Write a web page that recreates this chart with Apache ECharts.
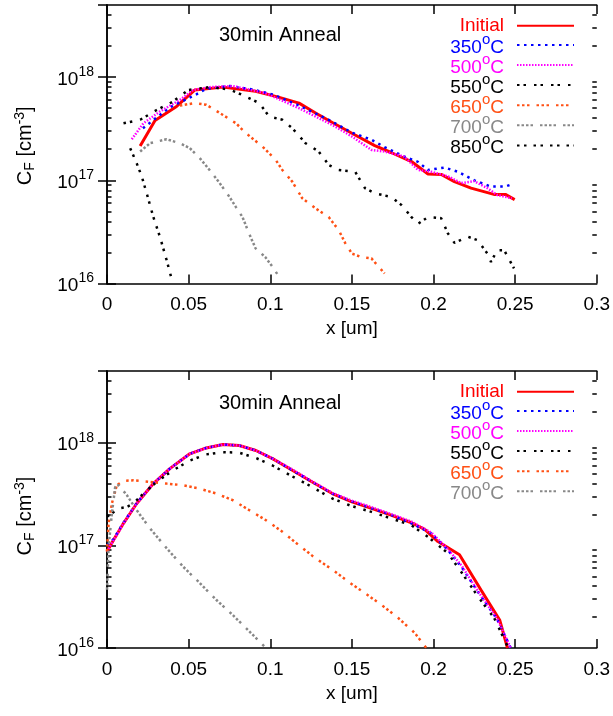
<!DOCTYPE html>
<html><head><meta charset="utf-8">
<script src="https://cdn.jsdelivr.net/npm/echarts@6/dist/echarts.min.js"></script>
<style>html,body{margin:0;padding:0;background:#fff}#c{width:613px;height:716px}</style>
</head><body><div id="c"></div>
<script>
// ---------- data ----------
const xTickLabels = ['0', '0.05', '0.1', '0.15', '0.2', '0.25', '0.3'];
const yMinorTicks = [2e16,3e16,4e16,5e16,6e16,7e16,8e16,9e16,2e17,3e17,4e17,5e17,6e17,7e17,8e17,9e17,2e18,3e18,4e18];
const seriesNamesTop = ['Initial', '350°C', '500°C', '550°C', '650°C', '700°C', '850°C'];
const seriesNamesBottom = ['Initial', '350°C', '500°C', '550°C', '650°C', '700°C'];
const panelTitle = '30min Anneal';

const top_initial = [[0.0203,2.15e17],[0.0294,3.8e17],[0.0426,5.2e17],[0.0537,7.5e17],[0.071,8.0e17],[0.091,7.3e17],[0.105,6.4e17],[0.1176,5.6e17],[0.128,4.47e17],[0.138,3.63e17],[0.15,2.86e17],[0.164,2.17e17],[0.174,1.86e17],[0.1865,1.52e17],[0.1966,1.15e17],[0.2047,1.14e17],[0.2128,9.7e16],[0.223,8.4e16],[0.237,7.3e16],[0.244,7.3e16],[0.2497,6.5e16]];
const top_350 = [[0.022,3.2e17],[0.0385,5.1e17],[0.0547,6.8e17],[0.0608,7.7e17],[0.075,8.2e17],[0.089,7.6e17],[0.1014,6.8e17],[0.1176,5.3e17],[0.1358,3.86e17],[0.15,2.9e17],[0.162,2.47e17],[0.170,2.1e17],[0.182,1.7e17],[0.1905,1.51e17],[0.1966,1.26e17],[0.2068,1.33e17],[0.215,1.21e17],[0.225,1.0e17],[0.235,8.7e16],[0.244,8.7e16],[0.2484,9.2e16]];
const top_500 = [[0.0152,2.5e17],[0.0223,3.57e17],[0.0324,4.64e17],[0.0446,6.0e17],[0.0527,7.5e17],[0.063,8.0e17],[0.077,8.2e17],[0.097,7.0e17],[0.1176,5.0e17],[0.138,3.44e17],[0.15,2.66e17],[0.162,1.97e17],[0.170,1.9e17],[0.182,1.7e17],[0.1905,1.26e17],[0.1987,1.21e17],[0.209,1.09e17],[0.217,9.4e16],[0.225,9.8e16],[0.233,8.4e16],[0.239,7.2e16],[0.248,6.7e16]];
const top_550 = [[0.0101,3.57e17],[0.0203,3.86e17],[0.0304,4.8e17],[0.0405,5.8e17],[0.0497,7.5e17],[0.063,8.0e17],[0.075,7.6e17],[0.083,6.7e17],[0.0933,5.6e17],[0.0993,4.15e17],[0.1074,3.86e17],[0.1135,3.2e17],[0.1216,2.29e17],[0.1297,1.9e17],[0.1358,1.41e17],[0.1419,1.26e17],[0.152,1.21e17],[0.158,8.4e16],[0.164,7.5e16],[0.174,6.9e16],[0.1804,5.75e16],[0.1865,4.4e16],[0.1906,3.8e16],[0.1966,4.4e16],[0.2047,4.3e16],[0.2088,3.06e16],[0.2128,2.48e16],[0.221,2.84e16],[0.227,2.63e16],[0.233,1.95e16],[0.2352,1.62e16],[0.239,2.1e16],[0.2433,2.1e16],[0.2493,1.4e16]];
const top_650 = [[0.0446,5.3e17],[0.0537,5.6e17],[0.0608,5.4e17],[0.071,4.3e17],[0.079,3.57e17],[0.0851,2.86e17],[0.0953,2.12e17],[0.1034,1.57e17],[0.1074,1.26e17],[0.1135,9.7e16],[0.1196,6.7e16],[0.1277,5.35e16],[0.1358,4.4e16],[0.1419,3.3e16],[0.146,2.45e16],[0.15,1.95e16],[0.156,1.8e16],[0.162,1.75e16],[0.170,1.25e16]];
const top_700 = [[0.0203,1.9e17],[0.0264,2.29e17],[0.0365,2.5e17],[0.0446,2.29e17],[0.0507,2.05e17],[0.0568,1.64e17],[0.0628,1.26e17],[0.069,9.4e16],[0.075,6.9e16],[0.079,5.5e16],[0.083,4.4e16],[0.087,3.05e16],[0.091,2.19e16],[0.097,1.8e16],[0.1014,1.45e16],[0.1048,1.2e16]];
const top_850 = [[0.0142,2.05e17],[0.0182,1.46e17],[0.0213,1.09e17],[0.0243,7.5e16],[0.0284,4.4e16],[0.0324,2.84e16],[0.0365,1.69e16],[0.0395,1.12e16]];

const bot_initial = [[0,8.7e16],[0.004,1.13e17],[0.0101,1.64e17],[0.0182,2.56e17],[0.0284,4.0e17],[0.0385,5.6e17],[0.0507,7.8e17],[0.0608,8.9e17],[0.071,9.6e17],[0.081,9.4e17],[0.0912,8.4e17],[0.1014,7.0e17],[0.1135,5.4e17],[0.1257,4.15e17],[0.138,3.2e17],[0.15,2.66e17],[0.162,2.29e17],[0.174,1.97e17],[0.1865,1.66e17],[0.1946,1.43e17],[0.2027,1.09e17],[0.2159,8.1e16],[0.229,3.7e16],[0.2406,1.86e16],[0.2453,1.0e16]];
const bot_350 = [[0,1.0e17],[0.004,1.15e17],[0.0101,1.66e17],[0.0182,2.58e17],[0.0284,4.0e17],[0.0385,5.6e17],[0.0507,7.8e17],[0.0608,8.9e17],[0.071,9.6e17],[0.081,9.4e17],[0.0912,8.4e17],[0.1014,7.0e17],[0.1135,5.4e17],[0.1257,4.15e17],[0.138,3.2e17],[0.15,2.68e17],[0.162,2.3e17],[0.174,1.98e17],[0.1865,1.64e17],[0.1987,1.31e17],[0.2088,9.0e16],[0.217,6.2e16],[0.2271,3.55e16],[0.239,1.9e16],[0.2473,1.0e16]];
const bot_500 = [[0,8.7e16],[0.004,1.12e17],[0.0101,1.64e17],[0.0182,2.56e17],[0.0284,4.0e17],[0.0385,5.6e17],[0.0507,7.8e17],[0.0608,8.9e17],[0.071,9.6e17],[0.081,9.4e17],[0.0912,8.4e17],[0.1014,7.0e17],[0.1135,5.5e17],[0.1257,4.2e17],[0.138,3.25e17],[0.15,2.72e17],[0.162,2.36e17],[0.174,2.02e17],[0.1865,1.7e17],[0.1987,1.33e17],[0.2088,9.2e16],[0.217,6.4e16],[0.2271,3.6e16],[0.239,1.92e16],[0.2473,1.0e16]];
const bot_550 = [[0,1.9e17],[0.003,2.05e17],[0.0071,2.29e17],[0.0122,2.37e17],[0.0162,2.56e17],[0.0223,3.2e17],[0.0304,4.15e17],[0.0405,5.4e17],[0.0507,6.7e17],[0.0608,7.7e17],[0.071,8.1e17],[0.081,8.0e17],[0.0912,7.1e17],[0.1014,6.0e17],[0.1135,4.7e17],[0.1257,3.7e17],[0.138,2.86e17],[0.15,2.41e17],[0.162,2.12e17],[0.174,1.83e17],[0.1865,1.57e17],[0.1966,1.21e17],[0.2088,8.4e16],[0.217,5.5e16],[0.2271,3.2e16],[0.2372,1.95e16],[0.2453,1.04e16]];
const bot_650 = [[0,8.7e16],[0.001,1.64e17],[0.003,2.56e17],[0.006,3.86e17],[0.0101,4.25e17],[0.0162,4.3e17],[0.0264,4.15e17],[0.0365,4.0e17],[0.0466,3.86e17],[0.0568,3.57e17],[0.0669,3.2e17],[0.077,2.76e17],[0.0872,2.2e17],[0.0973,1.76e17],[0.1074,1.36e17],[0.1176,1.0e17],[0.1277,7.5e16],[0.138,5.8e16],[0.148,4.4e16],[0.158,3.42e16],[0.168,2.64e16],[0.1784,1.96e16],[0.1885,1.4e16],[0.1956,1.0e16]];
const bot_700 = [[0,3.7e16],[0.001,9.8e16],[0.003,2.05e17],[0.005,3.7e17],[0.0071,3.86e17],[0.0122,3.08e17],[0.0182,2.2e17],[0.0264,1.46e17],[0.0365,9.4e16],[0.0466,6.2e16],[0.0568,4.3e16],[0.0669,2.95e16],[0.077,2.1e16],[0.0872,1.45e16],[0.0963,1.04e16]];

// ---------- styles ----------
const FONT = '"Liberation Sans", Arial, Helvetica, sans-serif';
const colors = ['#ff0000', '#0000ff', '#ff00ff', '#000000', '#ff5014', '#888888', '#000000'];
const dashes = ['solid', [2.5, 4.5], [1.5, 1.5], [2.5, 4, 2.5, 8], [2.5, 2.5, 2.5, 2.5, 2.5, 7], [2.5, 2, 2.5, 2, 2.5, 2, 2.5, 7], [2.5, 4.5, 2.5, 7]];
const widths = [3, 2.5, 2.5, 2.5, 2.5, 2.5, 2.5];
const topData = [top_initial, top_350, top_500, top_550, top_650, top_700, top_850];
const botData = [bot_initial, bot_350, bot_500, bot_550, bot_650, bot_700];

const axisLineStyle = { color: '#000', width: 1.5 };
const grids = [
  { left: 107, top: 5, width: 492, height: 278.5 },
  { left: 107, top: 371, width: 492, height: 277 }
];
const yNamePad = [[0, 3, 0, 0], [0, 13, 0, 0]];

function decadeFmt(v) {
  const e = Math.log10(v);
  if (Math.abs(e - Math.round(e)) > 1e-6) return '';
  return '{b|10}{s|' + Math.round(e) + '}';
}

const xAxes = [], yAxes = [];
grids.forEach((g, gi) => {
  xAxes.push({
    type: 'value', gridIndex: gi, min: 0, max: 0.3, interval: 0.05, position: 'bottom',
    axisLine: { show: true, onZero: false, lineStyle: axisLineStyle },
    axisTick: { show: true, inside: true, length: 9, lineStyle: axisLineStyle },
    axisLabel: { show: true, margin: 12, fontSize: 19, color: '#000', fontFamily: FONT,
      formatter: (v) => xTickLabels[Math.round(v / 0.05)] },
    splitLine: { show: false },
    name: 'x [um]', nameLocation: 'middle', nameGap: 36,
    nameTextStyle: { fontSize: 19, color: '#000', fontFamily: FONT }
  });
  xAxes.push({
    type: 'value', gridIndex: gi, min: 0, max: 0.3, interval: 0.05, position: 'top',
    axisLine: { show: true, onZero: false, lineStyle: axisLineStyle },
    axisTick: { show: true, inside: true, length: 9, lineStyle: axisLineStyle },
    axisLabel: { show: false }, splitLine: { show: false }
  });
  const yBase = { type: 'log', logBase: 10, gridIndex: gi, min: 1e16, max: 5e18, splitLine: { show: false } };
  yAxes.push(Object.assign({}, yBase, {
    position: 'left',
    axisLine: { show: true, lineStyle: axisLineStyle },
    axisTick: { show: true, inside: true, length: 9, lineStyle: axisLineStyle },
    axisLabel: { show: true, margin: 13, color: '#000', fontFamily: FONT, showMaxLabel: false,
      formatter: decadeFmt,
      rich: {
        b: { fontSize: 19, lineHeight: 19, padding: [5, 0, 0, 0], fontFamily: FONT, color: '#000' },
        s: { fontSize: 14, lineHeight: 14, padding: [0, 0, 10, 0], fontFamily: FONT, color: '#000' }
      } },
    name: '{n|C}{sub|F}{n| [cm}{sup|-3}{n|]}', nameLocation: 'middle', nameGap: 72,
    nameTextStyle: { color: '#000', fontFamily: FONT, padding: yNamePad[gi],
      rich: {
        n: { fontSize: 20, lineHeight: 20, fontFamily: FONT, color: '#000' },
        sub: { fontSize: 14, lineHeight: 14, padding: [10, 0, 0, 0], fontFamily: FONT, color: '#000' },
        sup: { fontSize: 14, lineHeight: 14, padding: [0, 0, 10, 0], fontFamily: FONT, color: '#000' }
      } }
  }));
  yAxes.push(Object.assign({}, yBase, {
    position: 'right',
    axisLine: { show: true, lineStyle: axisLineStyle },
    axisTick: { show: true, inside: true, length: 9, lineStyle: axisLineStyle },
    axisLabel: { show: false }
  }));
  ['left', 'right'].forEach(pos => {
    yAxes.push(Object.assign({}, yBase, {
      position: pos,
      axisLine: { show: false },
      axisTick: { show: true, inside: true, length: 4.5, customValues: yMinorTicks, lineStyle: axisLineStyle },
      axisLabel: { show: false }
    }));
  });
});

const series = [];
function addSeries(names, datas, gi) {
  datas.forEach((d, i) => {
    series.push({
      type: 'line', name: names[i], xAxisIndex: gi * 2, yAxisIndex: gi * 4,
      data: d, symbol: 'none', smooth: false, clip: true, animation: false,
      lineStyle: { color: colors[i], width: widths[i], type: dashes[i], cap: 'butt' },
      itemStyle: { color: colors[i] }
    });
  });
}
addSeries(seriesNamesTop, topData, 0);
addSeries(seriesNamesBottom, botData, 1);

function legendFmt(name) {
  if (name.indexOf('°') < 0) return '{c|' + name + '}';
  const parts = name.split('°');
  return '{b|' + parts[0] + '}{s|o}{b|' + parts[1] + '}';
}
function makeLegend(names, top) {
  return {
    orient: 'vertical', align: 'right', right: 38, top: top, padding: 0, itemGap: -5.9,
    itemWidth: 57, itemHeight: 20, selectedMode: false,
    itemStyle: { opacity: 0 },
    data: names.map((n, i) => ({ name: n, textStyle: { color: colors[i] } })),
    formatter: legendFmt,
    textStyle: { fontSize: 19, fontFamily: FONT, padding: [0, 8, 0, 0],
      rich: {
        c: { fontSize: 19, lineHeight: 20, padding: [2.5, 0, 2.5, 0], fontFamily: FONT },
        b: { fontSize: 19, lineHeight: 20, padding: [5, 0, 0, 0], fontFamily: FONT },
        s: { fontSize: 15, lineHeight: 14, padding: [0, 0, 11, 0], fontFamily: FONT }
      } }
  };
}

const option = {
  animation: false,
  backgroundColor: '#fff',
  textStyle: { fontFamily: FONT },
  title: [
    { text: panelTitle, left: 219, top: 25, padding: 0, textStyle: { fontSize: 20, fontWeight: 'normal', color: '#000', fontFamily: FONT } },
    { text: panelTitle, left: 219, top: 393, padding: 0, textStyle: { fontSize: 20, fontWeight: 'normal', color: '#000', fontFamily: FONT } }
  ],
  legend: [makeLegend(seriesNamesTop, 13.8), makeLegend(seriesNamesBottom, 379.8)],
  grid: grids,
  xAxis: xAxes,
  yAxis: yAxes,
  series: series
};
const chart = echarts.init(document.getElementById('c'), null, { renderer: 'canvas' });
chart.setOption(option);
</script></body></html>
